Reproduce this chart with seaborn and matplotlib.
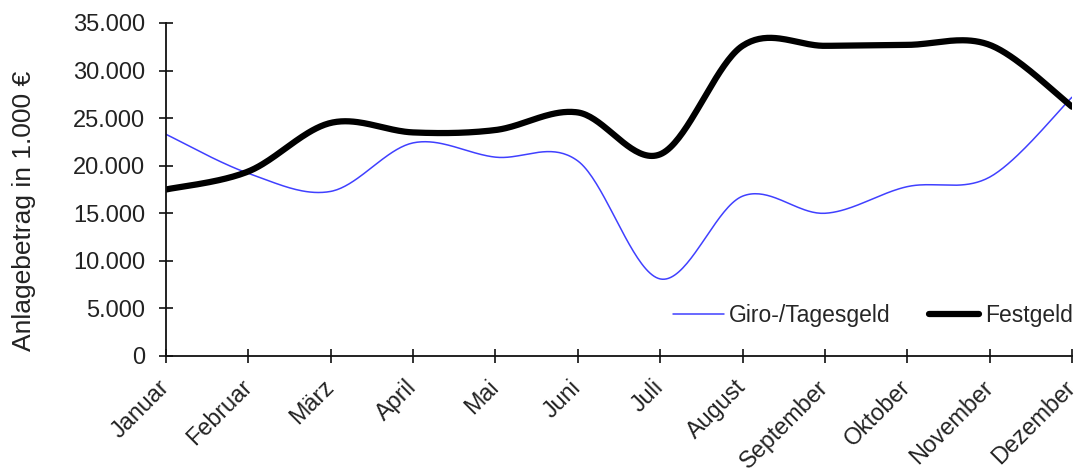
import numpy as np
import pandas as pd
import matplotlib
matplotlib.use("Agg")
import matplotlib.pyplot as plt
import seaborn as sns
from matplotlib.ticker import FuncFormatter
from matplotlib.lines import Line2D

months = ["Januar", "Februar", "März", "April", "Mai", "Juni", "Juli",
          "August", "September", "Oktober", "November", "Dezember"]
giro = [23300, 19200, 17300, 22400, 20900, 20500, 8100, 16800, 15000, 17800, 18800, 27200]
festgeld = [17500, 19400, 24500, 23500, 23750, 25600, 21200, 32600, 32600, 32700, 32700, 26200]
series_names = ["Giro-/Tagesgeld", "Festgeld"]
y_ticks = [0, 5000, 10000, 15000, 20000, 25000, 30000, 35000]


def smooth(xs, ys, n=40):
    """Catmull-Rom (Excel-like) smoothing of a polyline for rendering."""
    P = np.column_stack([xs, ys]).astype(float)
    P = np.vstack([P[0], P, P[-1]])
    out = []
    for i in range(1, len(P) - 2):
        p0, p1, p2, p3 = P[i - 1], P[i], P[i + 1], P[i + 2]
        b1 = p1 + (p2 - p0) / 6.0
        b2 = p2 - (p3 - p1) / 6.0
        t = np.linspace(0, 1, n, endpoint=(i == len(P) - 3))[:, None]
        seg = ((1 - t) ** 3) * p1 + 3 * ((1 - t) ** 2) * t * b1 + 3 * (1 - t) * t ** 2 * b2 + t ** 3 * p2
        out.append(seg)
    out = np.vstack(out)
    return out[:, 0], out[:, 1]


xpos = np.arange(len(months))
frames = []
for name, vals in zip(series_names, [giro, festgeld]):
    sx, sy = smooth(xpos, vals)
    frames.append(pd.DataFrame({"x": sx, "y": sy, "Serie": name}))
df = pd.concat(frames, ignore_index=True)

sns.set_theme(style="white")
plt.rcParams["font.family"] = ["Liberation Sans", "DejaVu Sans"]

fig = plt.figure(figsize=(10.78, 4.68), dpi=100)
ax = fig.add_axes([166 / 1078, 1 - 356 / 468, (1072 - 166) / 1078, (356 - 23) / 468])

blue = "#4040ff"
sns.lineplot(data=df, x="x", y="y", hue="Serie", size="Serie",
             palette={"Giro-/Tagesgeld": blue, "Festgeld": "#000000"},
             sizes={"Giro-/Tagesgeld": 1.1, "Festgeld": 4.5},
             sort=False, estimator=None, ax=ax, legend=False)

ax.set_xlim(0, len(months) - 1)
ax.set_ylim(0, 35000)
ax.set_xticks(xpos)
ax.set_xticklabels(months, rotation=45, ha="right", va="center", rotation_mode="anchor",
                   fontsize=16.8, color="#222222")
ax.set_yticks(y_ticks)
ax.yaxis.set_major_formatter(FuncFormatter(lambda v, p: f"{int(v):,}".replace(",", ".")))
ax.tick_params(axis="y", left=True, labelsize=17, labelcolor="#222222", color="#111111",
               direction="inout", length=10, width=1.2, pad=10)
ax.tick_params(axis="x", bottom=True, color="#111111", direction="inout", length=10, width=1.2, pad=15)
ax.set_xlabel("")
ax.set_ylabel("Anlagebetrag in 1.000 €", fontsize=19, color="#222222")
ax.yaxis.set_label_coords(-0.144, 0.435)

for s in ["top", "right"]:
    ax.spines[s].set_visible(False)
for s in ["left", "bottom"]:
    ax.spines[s].set_color("#111111")
    ax.spines[s].set_linewidth(1.3)
ax.patch.set_alpha(0)

handles = [Line2D([], [], color=blue, lw=1.1), Line2D([], [], color="#000000", lw=4.5)]
ax.legend(handles, series_names, loc="lower right", bbox_to_anchor=(1.011, 0.06), ncol=2, frameon=False,
          fontsize=16.5, handlelength=2.2, handletextpad=0.25, columnspacing=1.65, borderaxespad=0)

fig.savefig("out.png", dpi=100)
